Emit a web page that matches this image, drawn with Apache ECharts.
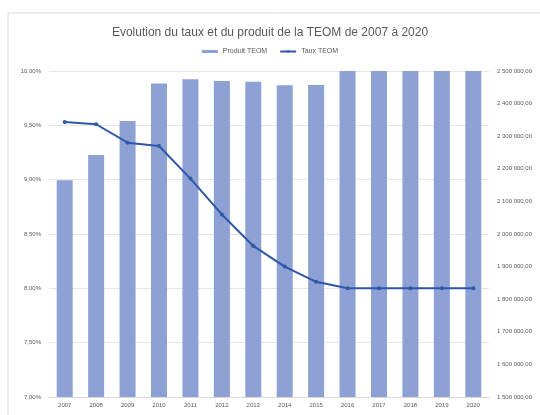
<!DOCTYPE html>
<html>
<head>
<meta charset="utf-8">
<script src="https://cdn.jsdelivr.net/npm/echarts@6/dist/echarts.min.js"></script>
<style>html,body{margin:0;padding:0;background:#fff}#c{width:540px;height:415px}</style>
</head>
<body>
<div id="c"></div>
<script>
var years = ['2007','2008','2009','2010','2011','2012','2013','2014','2015','2016','2017','2018','2019','2020'];
var produitTEOM = [2165000,2242000,2347000,2462000,2475000,2469000,2467000,2456000,2457000,2530000,2535000,2540000,2545000,2550000];
var tauxTEOM = [9.53,9.51,9.34,9.31,9.01,8.68,8.39,8.20,8.06,8.00,8.00,8.00,8.00,8.00];
var titleText = 'Evolution du taux et du produit de la TEOM de 2007 à 2020';

function fmtMoney(v){
  var s = Math.round(v).toString().replace(/\B(?=(\d{3})+(?!\d))/g,' ');
  return s + ',00';
}
var chart = echarts.init(document.getElementById('c'), null, {renderer:'canvas'});
chart.setOption({
  backgroundColor:'#fff',
  animation:false,
  graphic:[{type:'rect',shape:{x:8,y:13,width:540,height:410},style:{fill:'none',stroke:'#d9d9d9',lineWidth:1}}],
  title:{text:titleText,left:'center',top:22,textStyle:{fontSize:12,fontWeight:'normal',color:'#595959',fontFamily:'Liberation Sans'}},
  legend:{top:43,left:'center',itemWidth:16,itemHeight:3,itemGap:12,textStyle:{fontSize:7,color:'#595959'},
    data:[{name:'Produit TEOM',icon:'rect'},{name:'Taux TEOM'}]},
  grid:{left:49,right:51,top:71,bottom:18},
  xAxis:{type:'category',data:years,axisTick:{show:false},
    axisLine:{lineStyle:{color:'#d9d9d9'}},
    axisLabel:{fontSize:6,color:'#595959',margin:5}},
  yAxis:[
    {type:'value',min:7,max:10,interval:0.5,
     axisLabel:{fontSize:6,color:'#595959',formatter:function(v){return v.toFixed(2).replace('.',',')+'%';}},
     splitLine:{lineStyle:{color:'#e6e6e6'}},axisLine:{show:false},axisTick:{show:false}},
    {type:'value',min:1500000,max:2500000,interval:100000,position:'right',
     axisLabel:{fontSize:6,color:'#595959',formatter:fmtMoney},
     splitLine:{show:false},axisLine:{show:false},axisTick:{show:false}}
  ],
  series:[
    {name:'Produit TEOM',type:'bar',yAxisIndex:1,data:produitTEOM,barWidth:16,clip:true,
     itemStyle:{color:'#8DA1D5'}},
    {name:'Taux TEOM',type:'line',yAxisIndex:0,data:tauxTEOM,symbol:'circle',symbolSize:4,
     lineStyle:{color:'#2E57A8',width:2},itemStyle:{color:'#2E57A8'}}
  ]
});
</script>
</body>
</html>
